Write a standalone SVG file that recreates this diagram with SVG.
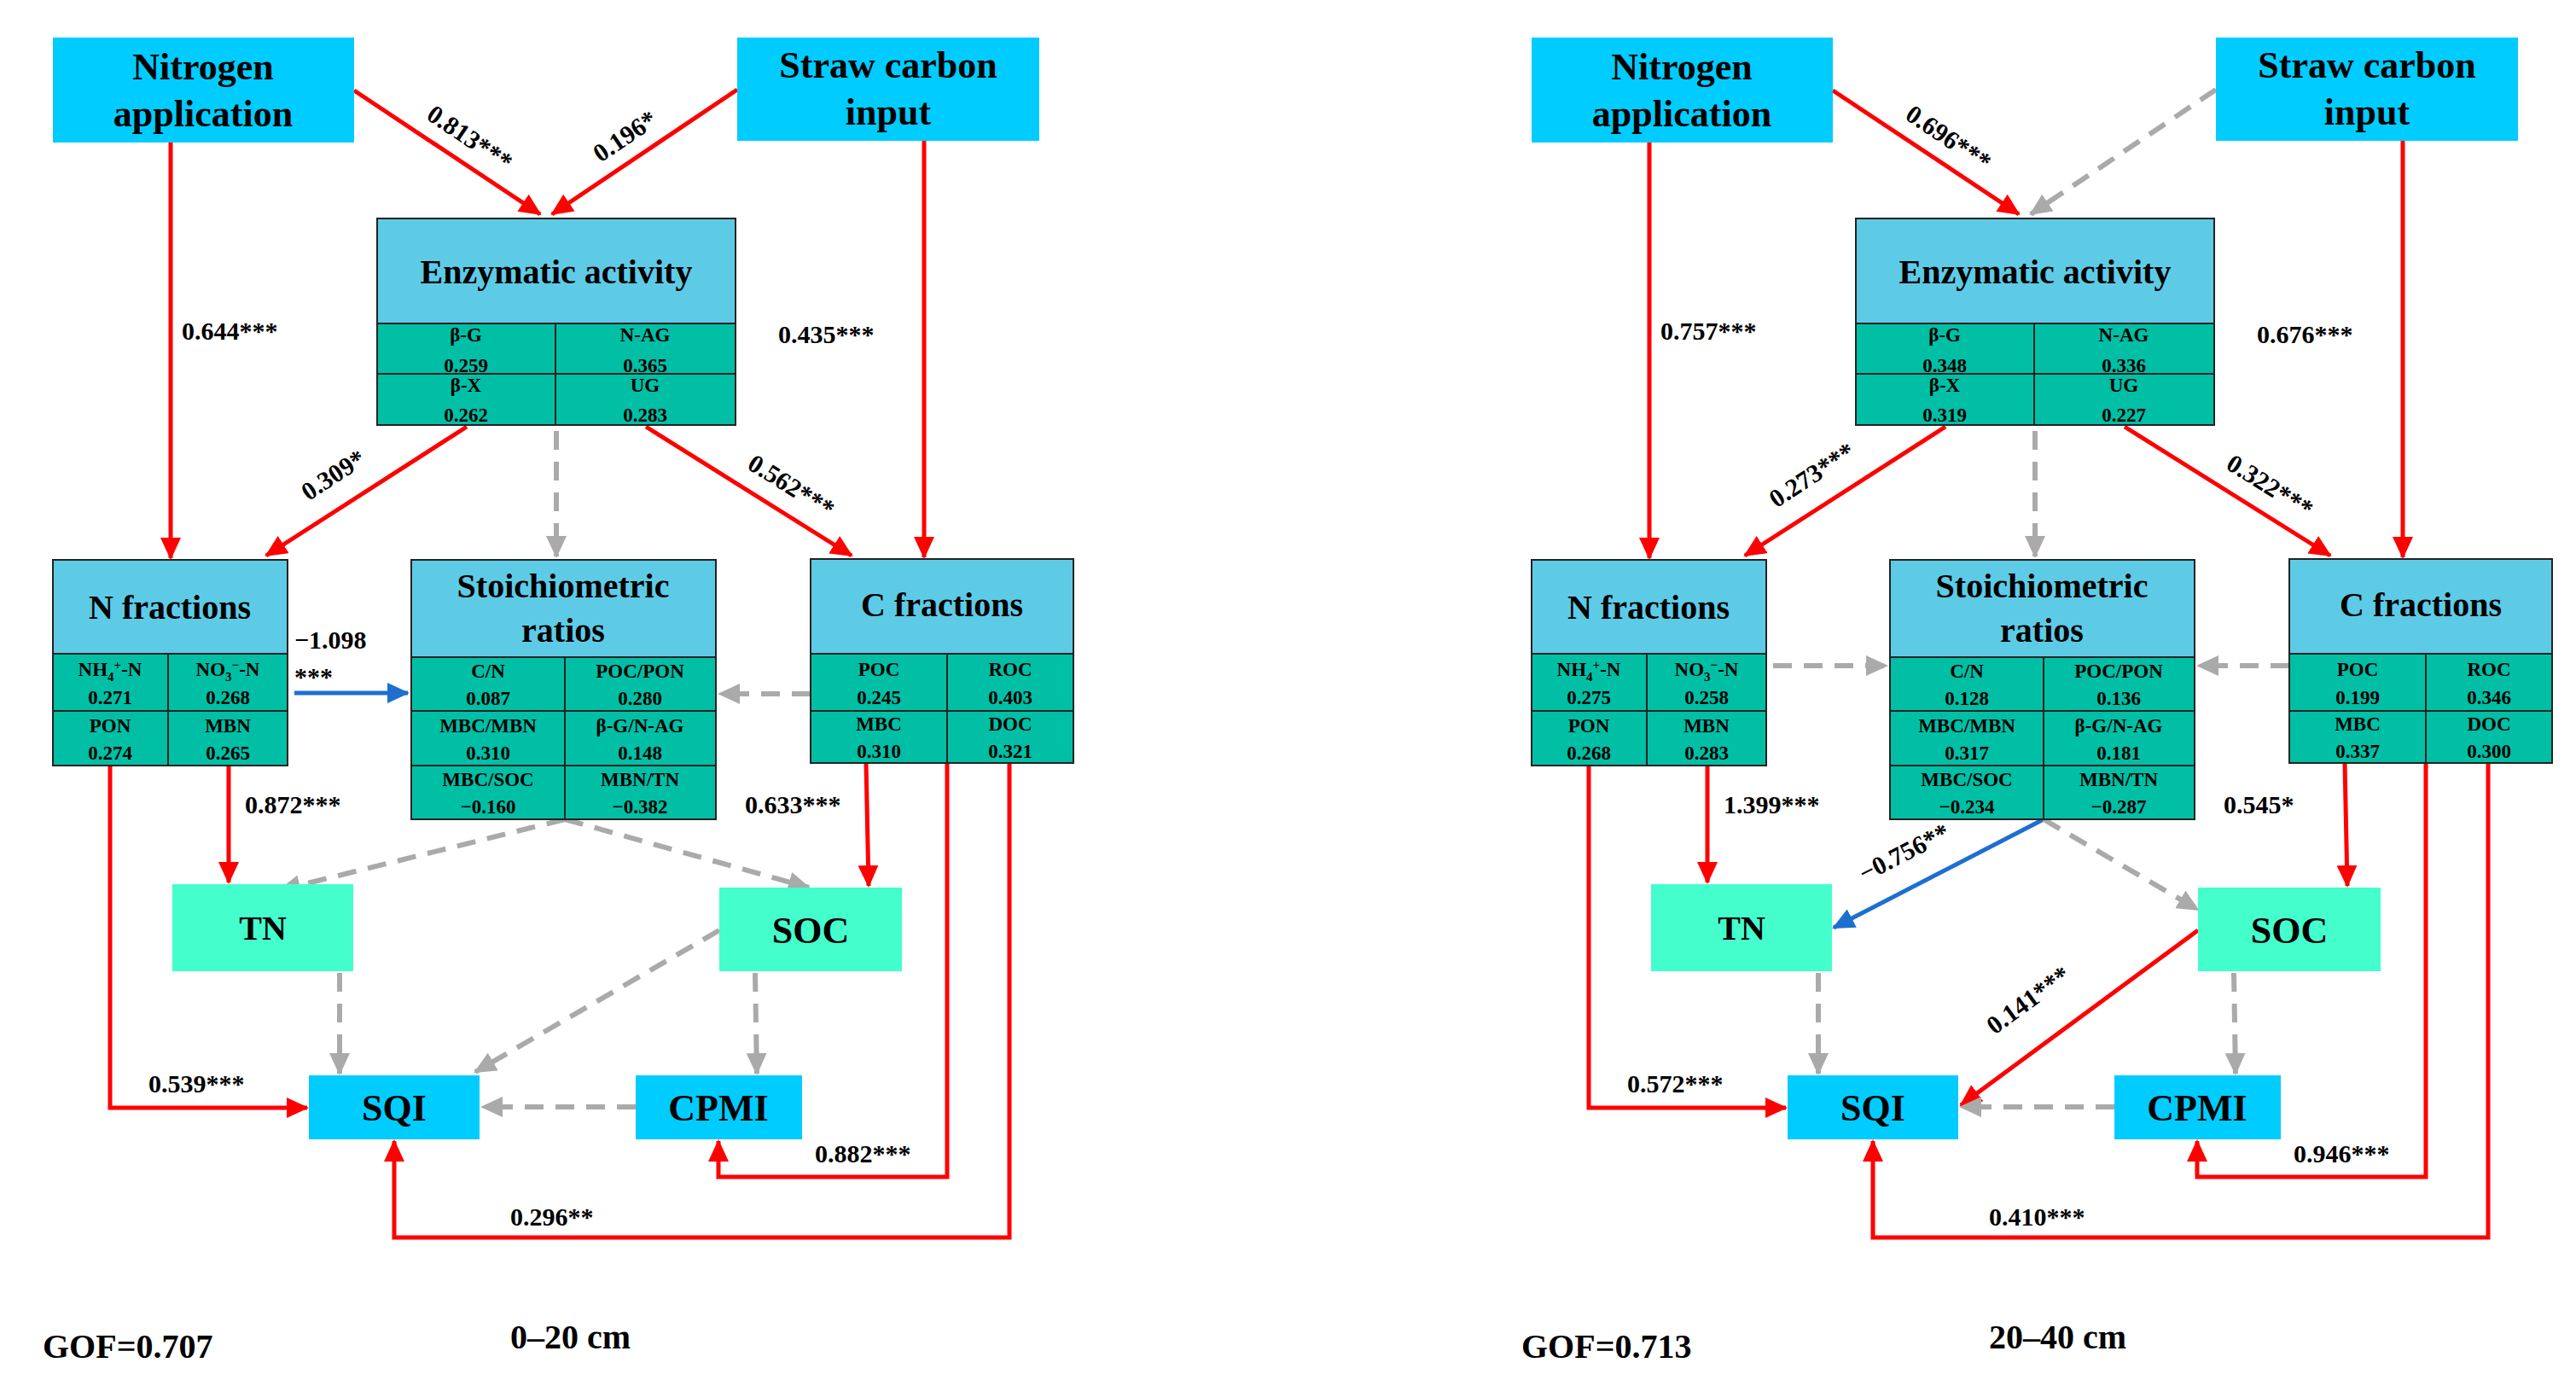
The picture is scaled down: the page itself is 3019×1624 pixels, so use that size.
<svg xmlns="http://www.w3.org/2000/svg" width="3019" height="1624" viewBox="0 0 3019 1624">
<style>
text{font-family:"Liberation Serif","DejaVu Serif",serif;font-weight:bold;fill:#000;text-anchor:middle}
.t{font-size:44px}.h{font-size:40px}.c{font-size:23px}.l{font-size:30px;text-anchor:start}.lm{font-size:30px}.g{font-size:40px;text-anchor:start}
.top{fill:#00CCFF}.hd{fill:#5ECBE6;stroke:#222;stroke-width:2}.cell{fill:#00BFA5;stroke:#222;stroke-width:2}.soil{fill:#44FFCC}
.r{fill:none;stroke:#FF0000;stroke-width:5;marker-end:url(#ar)}
.d{fill:none;stroke:#AAAAAA;stroke-width:6;stroke-dasharray:22 14;marker-end:url(#ag)}
.b{fill:none;stroke:#1E6FD0;stroke-width:5;marker-end:url(#ab)}
</style>
<defs>
<marker id="ar" markerUnits="userSpaceOnUse" markerWidth="26" markerHeight="24" refX="24" refY="12" orient="auto"><path d="M0,0 L26,12 L0,24 Z" fill="#FF0000"/></marker>
<marker id="ag" markerUnits="userSpaceOnUse" markerWidth="26" markerHeight="24" refX="24" refY="12" orient="auto"><path d="M0,0 L26,12 L0,24 Z" fill="#AAAAAA"/></marker>
<marker id="ab" markerUnits="userSpaceOnUse" markerWidth="26" markerHeight="24" refX="24" refY="12" orient="auto"><path d="M0,0 L26,12 L0,24 Z" fill="#1E6FD0"/></marker>
</defs>
<rect width="3019" height="1624" fill="#fff"/>

<!-- LEFT PANEL -->
<g id="L">
<g id="L-connectors">
<path class="r" d="M200,167 V654"/>
<path class="r" d="M1083,165 V653"/>
<path class="r" d="M415,106 L633,251"/>
<path class="r" d="M864,105 L647,251"/>
<path class="r" d="M547,500 L312,651"/>
<path class="r" d="M757,500 L998,651"/>
<path class="d" d="M652,505 V652"/>
<path class="d" d="M950,813 H843"/>
<path class="b" d="M345,812 H478"/>
<path class="r" d="M268,897 V1034"/>
<path class="r" d="M1015,894 L1018,1038"/>
<path class="r" d="M129,897 V1298 H360"/>
<path class="r" d="M1110,894 V1379 H842 V1337"/>
<path class="r" d="M1183,894 V1450 H462 V1337"/>
<path class="d" d="M662,960 L328,1043"/>
<path class="d" d="M662,960 L948,1040"/>
<path class="d" d="M843,1090 L557,1256"/>
<path class="d" d="M398,1140 V1258"/>
<path class="d" d="M885,1140 L887,1258"/>
<path class="d" d="M745,1297 H565"/>
<text class="lm" transform="translate(545,170) rotate(34)">0.813***</text>
<text class="lm" transform="translate(738,168) rotate(-34)">0.196*</text>
<text class="l" x="213" y="398">0.644***</text>
<text class="l" x="912" y="402">0.435***</text>
<text class="lm" transform="translate(396,565) rotate(-33)">0.309*</text>
<text class="lm" transform="translate(922,578) rotate(32)">0.562***</text>
<text class="l" x="345" y="760">−1.098</text>
<text class="l" x="345" y="803">***</text>
<text class="l" x="287" y="953">0.872***</text>
<text class="l" x="873" y="953">0.633***</text>
<text class="l" x="174" y="1280">0.539***</text>
<text class="l" x="955" y="1362">0.882***</text>
<text class="l" x="598" y="1436">0.296**</text>
</g>
<g id="L-nitrogen"><rect class="top" x="62" y="44" width="353" height="123"/><text class="t" x="238" y="93">Nitrogen</text><text class="t" x="238" y="148">application</text></g>
<g id="L-straw"><rect class="top" x="864" y="44" width="354" height="121"/><text class="t" x="1041" y="91">Straw carbon</text><text class="t" x="1041" y="146">input</text></g>
<g id="L-enzyme"><rect class="hd" x="442" y="256" width="420" height="123"/><text class="h" x="652" y="332">Enzymatic activity</text>
<rect class="cell" x="442" y="379" width="209" height="59"/><rect class="cell" x="651" y="379" width="211" height="59"/><rect class="cell" x="442" y="438" width="209" height="60"/><rect class="cell" x="651" y="438" width="211" height="60"/>
<text class="c" x="546" y="400">β-G</text><text class="c" x="546" y="436">0.259</text><text class="c" x="756" y="400">N-AG</text><text class="c" x="756" y="436">0.365</text>
<text class="c" x="546" y="459">β-X</text><text class="c" x="546" y="494">0.262</text><text class="c" x="756" y="459">UG</text><text class="c" x="756" y="494">0.283</text></g>
<g id="L-nfrac"><rect class="hd" x="62" y="656" width="275" height="110"/><text class="h" x="199" y="725">N fractions</text>
<rect class="cell" x="62" y="766" width="135" height="67"/><rect class="cell" x="197" y="766" width="140" height="67"/><rect class="cell" x="62" y="833" width="135" height="64"/><rect class="cell" x="197" y="833" width="140" height="64"/>
<text class="c" x="129" y="792">NH<tspan font-size="15" dy="6">4</tspan><tspan font-size="15" dy="-14">+</tspan><tspan dy="8">-N</tspan></text><text class="c" x="129" y="825">0.271</text>
<text class="c" x="267" y="792">NO<tspan font-size="15" dy="6">3</tspan><tspan font-size="15" dy="-14">−</tspan><tspan dy="8">-N</tspan></text><text class="c" x="267" y="825">0.268</text>
<text class="c" x="129" y="858">PON</text><text class="c" x="129" y="890">0.274</text><text class="c" x="267" y="858">MBN</text><text class="c" x="267" y="890">0.265</text></g>
<g id="L-stoich"><rect class="hd" x="482" y="656" width="357" height="114"/><text class="h" x="660" y="700">Stoichiometric</text><text class="h" x="660" y="752">ratios</text>
<rect class="cell" x="482" y="770" width="180" height="63"/><rect class="cell" x="662" y="770" width="177" height="63"/><rect class="cell" x="482" y="833" width="180" height="64"/><rect class="cell" x="662" y="833" width="177" height="64"/><rect class="cell" x="482" y="897" width="180" height="63"/><rect class="cell" x="662" y="897" width="177" height="63"/>
<text class="c" x="572" y="794">C/N</text><text class="c" x="572" y="826">0.087</text><text class="c" x="750" y="794">POC/PON</text><text class="c" x="750" y="826">0.280</text>
<text class="c" x="572" y="858">MBC/MBN</text><text class="c" x="572" y="890">0.310</text><text class="c" x="750" y="858">β-G/N-AG</text><text class="c" x="750" y="890">0.148</text>
<text class="c" x="572" y="921">MBC/SOC</text><text class="c" x="572" y="953">−0.160</text><text class="c" x="750" y="921">MBN/TN</text><text class="c" x="750" y="953">−0.382</text></g>
<g id="L-cfrac"><rect class="hd" x="950" y="655" width="308" height="111"/><text class="h" x="1104" y="722">C fractions</text>
<rect class="cell" x="950" y="766" width="160" height="67"/><rect class="cell" x="1110" y="766" width="148" height="67"/><rect class="cell" x="950" y="833" width="160" height="61"/><rect class="cell" x="1110" y="833" width="148" height="61"/>
<text class="c" x="1030" y="792">POC</text><text class="c" x="1030" y="825">0.245</text><text class="c" x="1184" y="792">ROC</text><text class="c" x="1184" y="825">0.403</text>
<text class="c" x="1030" y="856">MBC</text><text class="c" x="1030" y="888">0.310</text><text class="c" x="1184" y="856">DOC</text><text class="c" x="1184" y="888">0.321</text></g>
<g id="L-tn"><rect class="soil" x="202" y="1036" width="212" height="102"/><text class="h" x="308" y="1101">TN</text></g>
<g id="L-soc"><rect class="soil" x="843" y="1040" width="214" height="98"/><text class="t" x="950" y="1105">SOC</text></g>
<g id="L-sqi"><rect class="top" x="362" y="1260" width="200" height="75"/><text class="t" x="462" y="1313">SQI</text></g>
<g id="L-cpmi"><rect class="top" x="745" y="1260" width="195" height="75"/><text class="t" x="842" y="1313">CPMI</text></g>
<text class="g" x="50" y="1591">GOF=0.707</text>
<text class="g" x="598" y="1580">0–20 cm</text>
</g>

<!-- RIGHT PANEL -->
<g id="R" transform="translate(1733,0)">
<g id="R-connectors">
<path class="r" d="M200,167 V654"/>
<path class="r" d="M1083,165 V653"/>
<path class="r" d="M415,106 L633,251"/>
<path class="d" d="M864,105 L647,251"/>
<path class="r" d="M547,500 L312,651"/>
<path class="r" d="M757,500 L998,651"/>
<path class="d" d="M652,505 V652"/>
<path class="d" d="M950,780 H843"/>
<path class="d" d="M345,780 H478"/>
<path class="r" d="M268,897 V1034"/>
<path class="r" d="M1015,894 L1018,1038"/>
<path class="r" d="M129,897 V1298 H360"/>
<path class="r" d="M1110,894 V1379 H842 V1337"/>
<path class="r" d="M1183,894 V1450 H462 V1337"/>
<path class="b" d="M662,960 L416,1087"/>
<path class="d" d="M662,960 L843,1066"/>
<path class="r" d="M843,1090 L565,1295"/>
<path class="d" d="M398,1140 V1258"/>
<path class="d" d="M885,1140 L887,1258"/>
<path class="d" d="M745,1297 H565"/>
<text class="lm" transform="translate(545,170) rotate(34)">0.696***</text>
<text class="l" x="213" y="398">0.757***</text>
<text class="l" x="912" y="402">0.676***</text>
<text class="lm" transform="translate(396,565) rotate(-33)">0.273***</text>
<text class="lm" transform="translate(922,578) rotate(32)">0.322***</text>
<text class="l" x="287" y="953">1.399***</text>
<text class="l" x="873" y="953">0.545*</text>
<text class="lm" transform="translate(503,1008) rotate(-27)">−0.756**</text>
<text class="lm" transform="translate(650,1180) rotate(-36)">0.141***</text>
<text class="l" x="174" y="1280">0.572***</text>
<text class="l" x="955" y="1362">0.946***</text>
<text class="l" x="598" y="1436">0.410***</text>
</g>
<g id="R-nitrogen"><rect class="top" x="62" y="44" width="353" height="123"/><text class="t" x="238" y="93">Nitrogen</text><text class="t" x="238" y="148">application</text></g>
<g id="R-straw"><rect class="top" x="864" y="44" width="354" height="121"/><text class="t" x="1041" y="91">Straw carbon</text><text class="t" x="1041" y="146">input</text></g>
<g id="R-enzyme"><rect class="hd" x="442" y="256" width="420" height="123"/><text class="h" x="652" y="332">Enzymatic activity</text>
<rect class="cell" x="442" y="379" width="209" height="59"/><rect class="cell" x="651" y="379" width="211" height="59"/><rect class="cell" x="442" y="438" width="209" height="60"/><rect class="cell" x="651" y="438" width="211" height="60"/>
<text class="c" x="546" y="400">β-G</text><text class="c" x="546" y="436">0.348</text><text class="c" x="756" y="400">N-AG</text><text class="c" x="756" y="436">0.336</text>
<text class="c" x="546" y="459">β-X</text><text class="c" x="546" y="494">0.319</text><text class="c" x="756" y="459">UG</text><text class="c" x="756" y="494">0.227</text></g>
<g id="R-nfrac"><rect class="hd" x="62" y="656" width="275" height="110"/><text class="h" x="199" y="725">N fractions</text>
<rect class="cell" x="62" y="766" width="135" height="67"/><rect class="cell" x="197" y="766" width="140" height="67"/><rect class="cell" x="62" y="833" width="135" height="64"/><rect class="cell" x="197" y="833" width="140" height="64"/>
<text class="c" x="129" y="792">NH<tspan font-size="15" dy="6">4</tspan><tspan font-size="15" dy="-14">+</tspan><tspan dy="8">-N</tspan></text><text class="c" x="129" y="825">0.275</text>
<text class="c" x="267" y="792">NO<tspan font-size="15" dy="6">3</tspan><tspan font-size="15" dy="-14">−</tspan><tspan dy="8">-N</tspan></text><text class="c" x="267" y="825">0.258</text>
<text class="c" x="129" y="858">PON</text><text class="c" x="129" y="890">0.268</text><text class="c" x="267" y="858">MBN</text><text class="c" x="267" y="890">0.283</text></g>
<g id="R-stoich"><rect class="hd" x="482" y="656" width="357" height="114"/><text class="h" x="660" y="700">Stoichiometric</text><text class="h" x="660" y="752">ratios</text>
<rect class="cell" x="482" y="770" width="180" height="63"/><rect class="cell" x="662" y="770" width="177" height="63"/><rect class="cell" x="482" y="833" width="180" height="64"/><rect class="cell" x="662" y="833" width="177" height="64"/><rect class="cell" x="482" y="897" width="180" height="63"/><rect class="cell" x="662" y="897" width="177" height="63"/>
<text class="c" x="572" y="794">C/N</text><text class="c" x="572" y="826">0.128</text><text class="c" x="750" y="794">POC/PON</text><text class="c" x="750" y="826">0.136</text>
<text class="c" x="572" y="858">MBC/MBN</text><text class="c" x="572" y="890">0.317</text><text class="c" x="750" y="858">β-G/N-AG</text><text class="c" x="750" y="890">0.181</text>
<text class="c" x="572" y="921">MBC/SOC</text><text class="c" x="572" y="953">−0.234</text><text class="c" x="750" y="921">MBN/TN</text><text class="c" x="750" y="953">−0.287</text></g>
<g id="R-cfrac"><rect class="hd" x="950" y="655" width="308" height="111"/><text class="h" x="1104" y="722">C fractions</text>
<rect class="cell" x="950" y="766" width="160" height="67"/><rect class="cell" x="1110" y="766" width="148" height="67"/><rect class="cell" x="950" y="833" width="160" height="61"/><rect class="cell" x="1110" y="833" width="148" height="61"/>
<text class="c" x="1030" y="792">POC</text><text class="c" x="1030" y="825">0.199</text><text class="c" x="1184" y="792">ROC</text><text class="c" x="1184" y="825">0.346</text>
<text class="c" x="1030" y="856">MBC</text><text class="c" x="1030" y="888">0.337</text><text class="c" x="1184" y="856">DOC</text><text class="c" x="1184" y="888">0.300</text></g>
<g id="R-tn"><rect class="soil" x="202" y="1036" width="212" height="102"/><text class="h" x="308" y="1101">TN</text></g>
<g id="R-soc"><rect class="soil" x="843" y="1040" width="214" height="98"/><text class="t" x="950" y="1105">SOC</text></g>
<g id="R-sqi"><rect class="top" x="362" y="1260" width="200" height="75"/><text class="t" x="462" y="1313">SQI</text></g>
<g id="R-cpmi"><rect class="top" x="745" y="1260" width="195" height="75"/><text class="t" x="842" y="1313">CPMI</text></g>
<text class="g" x="50" y="1591">GOF=0.713</text>
<text class="g" x="598" y="1580">20–40 cm</text>
</g>
</svg>
